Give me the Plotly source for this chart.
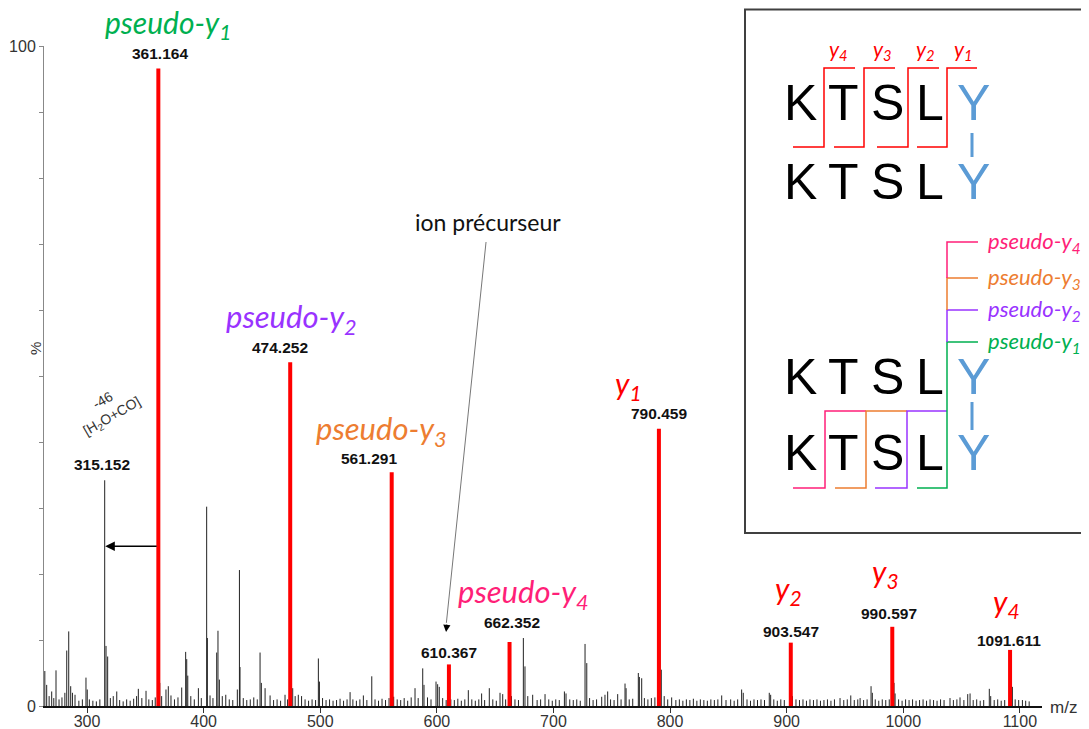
import plotly.graph_objects as go

# main fragment ions (red sticks)
ion_mz = [361.164, 474.252, 561.291, 610.367, 662.352, 790.459, 903.547, 990.597, 1091.611]
ion_int = [96.6, 52.1, 35.4, 6.3, 9.7, 42.0, 9.6, 12.0, 8.5]

# labelled black peak (loss of H2O+CO)
loss_mz = [315.152]
loss_int = [34.2]

# other peaks
minor_mz = [263.8, 265.4, 267.5, 269.7, 271.5, 273.4, 276, 278.5, 281, 282.6, 284.3, 286, 287.5, 289.7,
            293, 296, 299.1, 300.2, 302, 305, 308, 311, 316.3, 317.7, 320, 322.5, 325.5, 328, 331, 334,
            337, 340, 342.5, 344, 347, 350.6, 353, 356, 358.5, 362.4, 364, 367.7, 369.7, 372, 375, 378,
            381.2, 384.6, 385.5, 386.4, 389, 392, 395.5, 398, 402.6, 403.2, 405.5, 408, 411.2, 412.3,
            413.5, 416, 419, 422, 425, 428.9, 430.7, 431.2, 434, 437, 440, 443, 446, 448.4, 449.5, 452.7,
            457, 460, 463, 466, 469.8, 472, 476.4, 478.5, 481.2, 484, 487, 490, 493, 496, 498.4, 499.3,
            502, 505, 508, 511, 514, 517, 520, 523, 525.6, 528, 531, 534, 537, 540, 544.2, 547, 550, 553,
            556, 559, 563, 566, 569, 572, 575, 578, 581.3, 584, 587.9, 589, 592, 595, 599.3, 600.7, 602.1,
            605, 608, 612, 615, 618, 621, 624, 627, 630, 633, 636, 638.4, 641, 645, 648, 651, 654.2, 656.5,
            659, 664, 667, 670, 674.2, 675.6, 678, 682.2, 686, 689, 692.8, 696, 699, 702, 705, 709.4, 710.8,
            714, 717, 720, 723, 727.1, 728.6, 731, 734, 737, 741.4, 744.2, 746.5, 749, 752, 755.1, 758,
            761.4, 762.3, 765, 768, 772.8, 773.7, 775.7, 778, 781, 784, 787, 791.4, 792.5, 795, 798, 801.4,
            805, 808, 811, 814, 817, 820, 823, 826, 829, 832, 835, 838, 841, 844.3, 848, 852, 855, 858,
            861.4, 862.8, 866, 869, 872, 875, 878, 881, 885.1, 886.3, 889, 892, 895, 898, 902.9, 905, 908,
            911, 914, 917, 920, 923, 926, 929, 932, 935, 938, 941, 945.8, 949, 952, 955, 958, 961, 963,
            966, 969, 972.4, 973.5, 976, 979, 982, 985, 988, 992.1, 993, 996, 999, 1002, 1005, 1008, 1011,
            1014, 1017, 1020, 1023, 1026, 1029, 1032, 1035, 1040.1, 1043, 1046, 1048.7, 1052, 1055.3,
            1057.3, 1060, 1063, 1066, 1069, 1073.8, 1075, 1078, 1081, 1084, 1087, 1093.6, 1096, 1099,
            1102.2, 1105, 1108]
minor_int = [5.3, 3.2, 1.5, 2.2, 1.2, 5.4, 1.0, 1.3, 2.0, 8.4, 11.3, 3.0, 2.0, 1.7,
             0.8, 1.0, 4.3, 2.5, 1.0, 0.8, 0.7, 1.0, 9.1, 7.5, 1.2, 1.5, 2.2, 0.9, 0.7, 1.0,
             0.8, 1.1, 1.5, 2.6, 1.2, 2.3, 1.0, 0.9, 1.3, 3.5, 1.5, 2.5, 3.0, 1.6, 1.0, 1.3,
             2.8, 8.2, 7.1, 4.6, 1.5, 1.0, 2.7, 1.2, 30.2, 10.3, 1.6, 1.2, 8.1, 11.4,
             4.0, 1.5, 1.7, 1.0, 0.9, 2.5, 20.6, 5.9, 1.2, 0.9, 1.0, 1.3, 1.0, 8.1, 3.5, 2.7,
             1.6, 0.9, 1.0, 0.8, 1.7, 1.0, 2.7, 1.5, 1.7, 1.5, 1.0, 0.8, 1.0, 0.9, 7.2, 3.7,
             1.2, 0.9, 1.0, 0.8, 0.9, 1.1, 0.8, 1.0, 2.1, 1.0, 0.8, 1.0, 1.6, 0.9, 4.5, 1.0, 0.8, 1.1,
             0.9, 1.2, 1.4, 1.0, 0.9, 1.2, 0.8, 1.3, 2.7, 1.2, 5.7, 3.2, 1.3, 1.0, 3.7, 3.3, 2.9,
             1.2, 0.9, 1.0, 0.9, 1.1, 0.8, 1.0, 2.4, 1.0, 0.8, 1.0, 1.9, 0.9, 2.7, 1.0, 0.8, 2.0, 1.8,
             1.0, 1.5, 1.0, 0.9, 10.3, 6.0, 1.5, 1.7, 0.9, 1.0, 1.8, 1.0, 0.8, 1.0, 0.9, 2.2, 1.9,
             1.0, 0.9, 1.0, 0.8, 9.4, 6.5, 1.2, 0.9, 1.0, 1.4, 1.7, 2.2, 1.0, 0.9, 1.8, 1.0,
             3.4, 2.7, 1.0, 1.1, 5.0, 4.4, 4.2, 1.2, 1.0, 1.2, 1.3, 29.7, 5.5, 1.5, 1.0, 1.3,
             0.9, 1.0, 0.8, 1.0, 0.9, 1.1, 0.8, 1.0, 0.9, 0.8, 1.0, 0.9, 1.0, 1.6, 0.9, 1.0, 0.8, 1.0,
             2.5, 2.0, 1.0, 0.8, 1.0, 0.9, 1.0, 0.9, 2.0, 1.7, 1.0, 0.8, 1.0, 0.9, 9.2, 1.5, 1.0,
             0.9, 1.0, 0.8, 1.0, 0.9, 1.0, 0.8, 0.9, 1.0, 0.8, 1.0, 1.2, 0.9, 1.0, 1.6, 0.9, 1.0, 1.2,
             0.9, 1.0, 3.0, 2.0, 1.0, 0.8, 1.0, 0.9, 1.0, 3.5, 1.9, 1.0, 0.8, 1.0, 0.9, 1.0, 0.8,
             0.9, 1.0, 0.8, 1.0, 0.9, 0.8, 1.0, 0.9, 1.2, 0.9, 1.0, 1.3, 0.9, 1.8,
             1.9, 0.9, 1.0, 0.8, 0.9, 2.6, 1.5, 0.9, 1.0, 0.8, 0.9, 2.9, 1.0, 0.9,
             0.9, 0.8, 0.7]

x_ticks = [300, 400, 500, 600, 700, 800, 900, 1000, 1100]
y_ticks = [0, 10, 20, 30, 40, 50, 60, 70, 80, 90, 100]
y_ticktext = ["0", "", "", "", "", "", "", "", "", "", "100"]

peptide = ["K", "T", "S", "L", "Y"]

RED = "#ff0000"
GREEN = "#00b050"
PURPLE = "#9933ff"
ORANGE = "#ed7d31"
PINK = "#ff1f78"
BLUE = "#5b9bd5"

# the page body adds an 8px margin, so the figure is 8px smaller than the window
PAD = 8
W, H = 1089 - PAD, 729 - PAD
# plot area in window pixels
L, R, T, B = 44, 1042, 46, 706


def px(x):
    return (x - L) / (R - L)


def py(y):
    return (B - y) / (B - T)


def sticks(mz, inten):
    xs, ys = [], []
    for m, v in zip(mz, inten):
        xs += [m, m, None]
        ys += [0, v, None]
    return xs, ys


fig = go.Figure()

mx, my = sticks(minor_mz + loss_mz, minor_int + loss_int)
fig.add_trace(go.Scatter(x=mx, y=my, mode="lines", line=dict(color="#222222", width=1),
                         hoverinfo="skip", showlegend=False))
rx, ry = sticks(ion_mz, ion_int)
fig.add_trace(go.Scatter(x=rx, y=ry, mode="lines", line=dict(color=RED, width=4),
                         hoverinfo="skip", showlegend=False))

ann = []


def text(x, y, s, size, color="#111111", family="Liberation Sans", xanchor="center", **kw):
    ann.append(dict(x=px(x), y=py(y), xref="paper", yref="paper", text=s, showarrow=False,
                    xanchor=xanchor, yanchor="middle",
                    font=dict(size=size, color=color, family=family), **kw))


ITAL = "Lato"
NUM = 15.5
# peak labels (big italic names + bold m/z values)
text(168, 24, "<i>pseudo-y<sub>1</sub></i>", 30, GREEN, ITAL)
text(160, 53, "<b>361.164</b>", NUM)
text(291, 318, "<i>pseudo-y<sub>2</sub></i>", 31, PURPLE, ITAL)
text(280, 347, "<b>474.252</b>", NUM)
text(381, 430, "<i>pseudo-y<sub>3</sub></i>", 31, ORANGE, ITAL)
text(369, 458, "<b>561.291</b>", NUM)
text(628, 385, "<i>y<sub>1</sub></i>", 30, RED, ITAL)
text(659, 413, "<b>790.459</b>", NUM)
text(102, 465, "<b>315.152</b>", NUM)
text(449, 652, "<b>610.367</b>", NUM)
text(523, 593, "<i>pseudo-y<sub>4</sub></i>", 31, PINK, ITAL)
text(512, 622, "<b>662.352</b>", NUM)
text(788, 590, "<i>y<sub>2</sub></i>", 30, RED, ITAL)
text(791, 631, "<b>903.547</b>", NUM)
text(885, 573, "<i>y<sub>3</sub></i>", 30, RED, ITAL)
text(889, 613, "<b>990.597</b>", NUM)
text(1006, 603, "<i>y<sub>4</sub></i>", 30, RED, ITAL)
text(1009, 640, "<b>1091.611</b>", NUM)
text(107, 409, "-46<br>[H<sub>2</sub>O+CO]", 14, "#333333", textangle=-30)
text(488, 222, "ion précurseur", 23, "#111111", ITAL)
text(1063, 707, "m/z", 17, "#333333")
text(35, 349, "%", 15, "#333333", textangle=-90)

# arrow from the 361 peak to the 315 peak
ann.append(dict(x=315.6, y=24.2, ax=361.0, ay=24.2, xref="x", yref="y", axref="x", ayref="y",
                text="", showarrow=True, arrowhead=2, arrowsize=1.2, arrowwidth=1.6, arrowcolor="#000000"))
# precursor pointer: thin grey line + black head
ann.append(dict(x=607.9, y=11.2, ax=1, ay=-9, xref="x", yref="y",
                text="", showarrow=True, arrowhead=2, arrowsize=1.2, arrowwidth=1.2, arrowcolor="#000000"))

shapes = [dict(type="line", xref="x", yref="y", x0=642.2, y0=70.3, x1=608.2, y1=12.6,
               line=dict(color="#777777", width=1))]


def path(points, color, width=1.5):
    d = "M " + " L ".join(f"{px(x):.5f},{py(y):.5f}" for x, y in points)
    shapes.append(dict(type="path", xref="paper", yref="paper", path=d,
                       line=dict(color=color, width=width), layer="above"))


# inset box
shapes.append(dict(type="rect", xref="paper", yref="paper", x0=px(745), x1=px(1100), y0=py(533), y1=py(9.5),
                   fillcolor="white", line=dict(color="#404040", width=2), layer="above"))

letter_x = [800, 843, 887, 930, 973]
for row_y in [103, 182, 377, 453]:
    for lx, aa in zip(letter_x, peptide):
        text(lx, row_y, aa, 50, BLUE if aa == "Y" else "#000000")

# cross-link between the two tyrosines
path([(972, 133), (972, 157)], BLUE, 3)
path([(972, 402), (972, 430)], BLUE, 3)

# y ion brackets
for (x0, xv, x1), lab, lx in zip([(793, 824, 855), (834, 864, 895), (877, 908, 939), (917, 947, 977)],
                                  ["4", "3", "2", "1"], [838, 882, 925, 963]):
    path([(x0, 147), (xv, 147), (xv, 68), (x1, 68)], RED)
    text(lx, 50, f"<i>y<sub>{lab}</sub></i>", 21, RED, ITAL)

# pseudo-y ion brackets
path([(793, 488), (825, 488), (825, 411), (866, 411)], PINK)
path([(835, 488), (866, 488), (866, 411), (907, 411)], ORANGE)
path([(875, 488), (907, 488), (907, 411), (947, 411)], PURPLE)
path([(917, 488), (947, 488), (947, 342), (978, 342)], GREEN)
path([(947, 342), (947, 310), (978, 310)], PURPLE)
path([(947, 310), (947, 278), (978, 278)], ORANGE)
path([(947, 278), (947, 242), (978, 242)], PINK)
for yy, n, c in [(242, "4", PINK), (278, "3", ORANGE), (310, "2", PURPLE), (342, "1", GREEN)]:
    text(986, yy, f"<i>pseudo-y<sub>{n}</sub></i>", 22, c, ITAL, xanchor="left")

fig.update_layout(
    width=W, height=H,
    margin=dict(l=L - PAD, r=1089 - R, t=T - PAD, b=729 - B, autoexpand=False),
    paper_bgcolor="white", plot_bgcolor="white",
    annotations=ann, shapes=shapes,
    xaxis=dict(range=[263.1, 1119], tickvals=x_ticks, ticks="outside", ticklen=5, tickcolor="#333333",
               ticklabelstandoff=-5,
               showline=True, linecolor="#111111", linewidth=1.5, showgrid=False, zeroline=False,
               tickfont=dict(size=16, color="#333333", family="Liberation Sans")),
    yaxis=dict(range=[0, 100], tickvals=y_ticks, ticktext=y_ticktext, ticks="outside", ticklen=4,
               tickcolor="#888888", showline=True, linecolor="#888888", linewidth=1, showgrid=False,
               zeroline=False, tickfont=dict(size=16, color="#333333", family="Liberation Sans")),
)

fig.write_html("out.html")
